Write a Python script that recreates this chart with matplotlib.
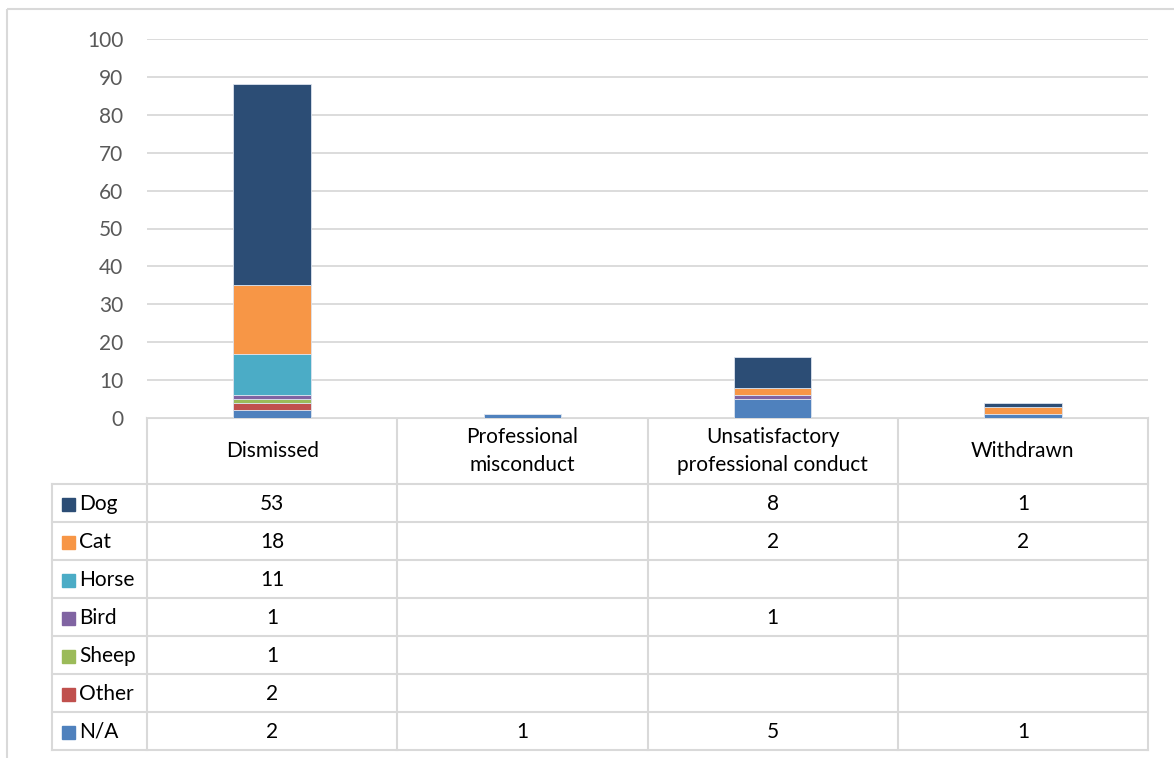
import numpy as np
import matplotlib.pyplot as plt
from matplotlib.patches import Rectangle

plt.rcParams['font.family'] = ['Lato', 'DejaVu Sans']

categories = ["Dismissed", "Professional\nmisconduct",
              "Unsatisfactory\nprofessional conduct", "Withdrawn"]
# series listed top row of the table first
series = ["Dog", "Cat", "Horse", "Bird", "Sheep", "Other", "N/A"]
dog = [53, None, 8, 1]
cat = [18, None, 2, 2]
horse = [11, None, None, None]
bird = [1, None, 1, None]
sheep = [1, None, None, None]
other = [2, None, None, None]
na = [2, 1, 5, 1]
colors = ["#2C4D75", "#F79646", "#4BACC6", "#8064A2", "#9BBB59", "#C0504D", "#4F81BD"]

values = [dog, cat, horse, bird, sheep, other, na]

W, H = 1174, 758
fig = plt.figure(figsize=(W / 100, H / 100), dpi=100)

# pixel layout
px_left, px_right = 147, 1148
px_top, px_zero = 39, 418
tbl_left, tbl_bottom = 52, 750
hdr_bottom = 484
grid_c = "#D9D9D9"
fs = 15

# outer chart border
bg = fig.add_axes([0, 0, 1, 1])
bg.set_xlim(0, W)
bg.set_ylim(H, 0)
bg.axis("off")
bg.add_patch(Rectangle((7, 9), W + 10, H + 10, fill=False, edgecolor=grid_c, lw=1.5))

ax = fig.add_axes([px_left / W, 1 - px_zero / H, (px_right - px_left) / W, (px_zero - px_top) / H])
x = np.arange(len(categories))
bottom = np.zeros(len(categories))
for name, vals, col in reversed(list(zip(series, values, colors))):
    v = np.array([np.nan if a is None else a for a in vals], dtype=float)
    h = np.nan_to_num(v)
    ax.bar(x, h, 0.31, bottom=bottom, color=col, edgecolor="#DCE3EE", linewidth=0.6, zorder=3)
    bottom += h

ax.set_xlim(-0.5, len(categories) - 0.5)
ax.set_ylim(0, 100)
ax.set_yticks(np.arange(0, 101, 10))
ax.tick_params(axis="y", length=0, labelsize=fs, labelcolor="#595959", pad=17)
ax.set_xticks([])
ax.grid(axis="y", color=grid_c, lw=1.3, zorder=0)
for s in ax.spines.values():
    s.set_visible(False)

# data table below the plot
n = len(series)
row_h = (tbl_bottom - hdr_bottom) / n
col_w = (px_right - px_left) / len(categories)
lc = dict(color=grid_c, lw=1.5)
bg.plot([px_left, px_right], [px_zero, px_zero], **lc)
for i in range(len(categories) + 1):
    bg.plot([px_left + i * col_w] * 2, [px_zero, tbl_bottom], **lc)
bg.plot([tbl_left, tbl_left], [hdr_bottom, tbl_bottom], **lc)
for r in range(n + 1):
    yy = hdr_bottom + r * row_h
    bg.plot([tbl_left, px_right], [yy, yy], **lc)

for i, c in enumerate(categories):
    bg.text(px_left + (i + 0.5) * col_w, (px_zero + hdr_bottom) / 2, c,
            ha="center", va="center", fontsize=fs, color="black", linespacing=1.55)

for r, (name, vals, col) in enumerate(zip(series, values, colors)):
    yc = hdr_bottom + (r + 0.5) * row_h
    bg.add_patch(Rectangle((62, yc - 5), 13, 13, color=col))
    bg.text(79, yc + 1, name, ha="left", va="center", fontsize=fs, color="black")
    for i, v in enumerate(vals):
        if v is not None:
            bg.text(px_left + (i + 0.5) * col_w, yc + 1, str(v), ha="center", va="center",
                    fontsize=fs, color="black")

fig.savefig("out.png", dpi=100)
